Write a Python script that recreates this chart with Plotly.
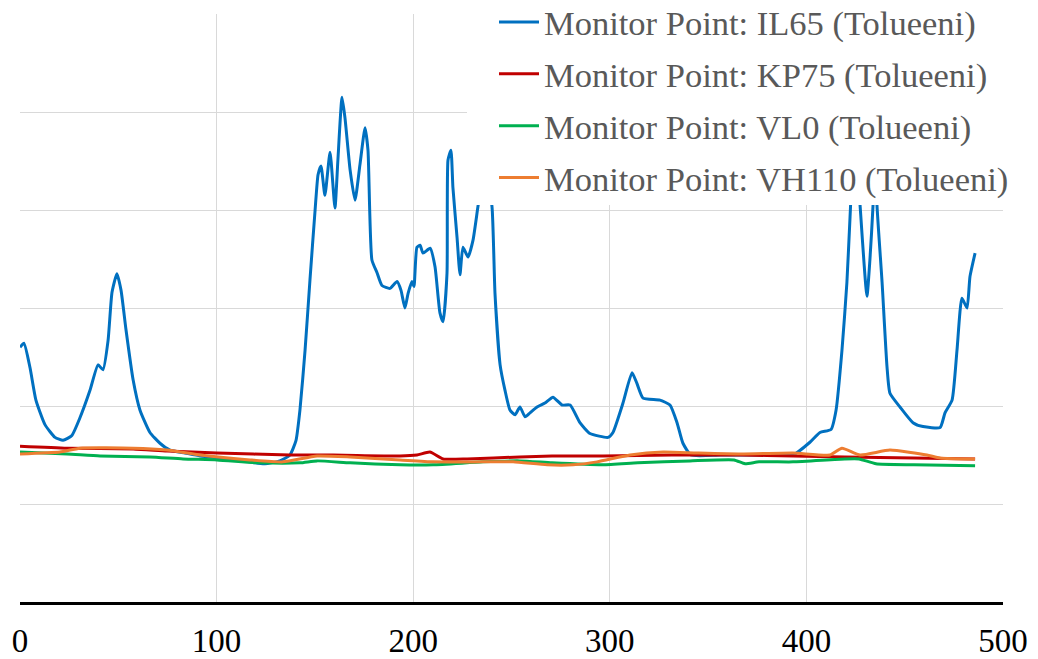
import plotly.graph_objects as go

# ---- data (time, concentration in gridline units) ----
il65_x = [0, 2.0, 5.1, 8.1, 12.7, 17.8, 21.9, 26.4, 30.5, 35.6, 39.7, 42.2, 44.8, 46.8, 49.3,
          51.4, 53.9, 57.5, 61.0, 66.1, 71.2, 76.3, 83.9, 91.6, 101.7, 111.9, 119.5, 124.6,
          132.2, 137.3, 140.4, 142.4, 145.0, 147.5, 150.1, 151.6, 153.1, 155.1, 157.7, 160.2,
          161.7, 163.8, 165.3, 167.9, 170.4, 172.9, 175.5, 177.0, 179.0, 181.6, 184.1, 188.2,
          191.8, 193.8, 195.8, 197.4, 199.4, 200.4, 201.9, 203.5, 205.0, 208.6, 211.1, 213.6,
          215.2, 217.2, 217.7, 219.2, 220.2, 222.3, 223.8, 225.3, 227.9, 230.4, 232.9, 236.5,
          240.1, 241.6, 244.2, 246.7, 249.2, 251.8, 254.3, 256.9, 259.4, 263.0, 267.0, 271.1,
          275.7, 279.8, 284.8, 289.9, 299.1, 301.6, 306.7, 311.3, 313.8, 316.9, 325.5, 330.6,
          334.2, 337.2, 341.3, 356.1, 371.3, 384.0, 393.2, 401.8, 406.9, 412.5, 415.1, 418.1,
          420.6, 422.2, 424.7, 427.3, 430.8, 432.3, 433.9, 434.9, 435.9, 438.5, 441.0, 442.5,
          447.6, 454.2, 459.3, 468.0, 470.5, 474.1, 476.6, 479.1, 481.7, 483.2, 485.8]
il65_y = [2.60, 2.64, 2.39, 2.06, 1.81, 1.68, 1.65, 1.70, 1.88, 2.16, 2.42, 2.37, 2.67, 3.16, 3.35,
          3.18, 2.78, 2.27, 1.96, 1.73, 1.62, 1.55, 1.52, 1.49, 1.47, 1.45, 1.42, 1.41,
          1.44, 1.50, 1.65, 1.96, 2.57, 3.29, 4.00, 4.36, 4.45, 4.15, 4.59, 4.02,
          4.51, 5.15, 4.94, 4.41, 4.10, 4.46, 4.84, 4.61, 3.49, 3.36, 3.23, 3.20,
          3.27, 3.18, 3.00, 3.15, 3.27, 3.22, 3.62, 3.64, 3.56, 3.61, 3.42, 2.95,
          2.86, 3.36, 4.51, 4.61, 4.23, 3.72, 3.34, 3.62, 3.52, 3.69, 4.03, 4.50,
          4.03, 3.15, 2.42, 2.16, 1.96, 1.91, 1.99, 1.89, 1.93, 1.99, 2.03, 2.09,
          2.01, 2.01, 1.83, 1.72, 1.68, 1.73, 2.03, 2.34, 2.23, 2.08, 2.06, 2.01,
          1.83, 1.62, 1.50, 1.50, 1.50, 1.50, 1.50, 1.63, 1.73, 1.76, 1.96, 2.57,
          3.26, 3.93, 4.90, 4.05, 3.12, 3.49, 4.05, 4.80, 4.05, 3.26, 2.40, 2.13,
          1.99, 1.83, 1.79, 1.78, 1.93, 2.06, 2.57, 3.10, 3.00, 3.32, 3.56]

kp75_x = [0, 23.9, 57.5, 74.8, 100.2, 137.3, 159.2, 193.3, 201.9, 208.5, 215.2, 227.4, 254.3,
          270.6, 296.5, 331.6, 366.7, 393.2, 419.6, 454.7, 485.8]
kp75_y = [1.59, 1.57, 1.56, 1.54, 1.52, 1.50, 1.50, 1.49, 1.50, 1.53, 1.46, 1.46, 1.48,
          1.49, 1.49, 1.50, 1.50, 1.49, 1.48, 1.47, 1.46]

vl0_x = [0, 23.9, 40.7, 66.1, 82.9, 100.2, 122.1, 142.4, 151.1, 167.9, 193.3, 210.1, 235.5,
         254.3, 270.6, 296.5, 314.3, 340.8, 363.2, 368.8, 375.9, 393.2, 419.6, 426.8, 435.4,
         454.7, 485.8]
vl0_y = [1.53, 1.51, 1.49, 1.48, 1.46, 1.45, 1.42, 1.42, 1.44, 1.42, 1.40, 1.40, 1.43,
         1.44, 1.42, 1.40, 1.42, 1.44, 1.45, 1.41, 1.43, 1.43, 1.46, 1.46, 1.41,
         1.40, 1.39]

vh110_x = [0, 20.3, 30.5, 57.5, 74.8, 91.6, 117.0, 133.8, 151.1, 167.9, 193.3, 210.1, 235.5,
           250.8, 268.1, 281.3, 293.5, 310.3, 327.1, 344.4, 366.7, 393.2, 412.0, 418.1, 427.3,
           442.5, 461.3, 468.0, 485.8]
vh110_y = [1.51, 1.53, 1.57, 1.57, 1.55, 1.50, 1.45, 1.43, 1.49, 1.48, 1.45, 1.43, 1.43,
           1.43, 1.40, 1.40, 1.43, 1.50, 1.53, 1.52, 1.51, 1.52, 1.50, 1.57, 1.50,
           1.55, 1.50, 1.47, 1.46]

names = ["Monitor Point: IL65 (Tolueeni)", "Monitor Point: KP75 (Tolueeni)",
         "Monitor Point: VL0 (Tolueeni)", "Monitor Point: VH110 (Tolueeni)"]
colors = ["#0070C0", "#C00000", "#00B050", "#ED7D31"]

x_ticks = [0, 100, 200, 300, 400, 500]

SERIF = "Liberation Serif"

fig = go.Figure()
series = [(il65_x, il65_y), (kp75_x, kp75_y), (vl0_x, vl0_y), (vh110_x, vh110_y)]
for i, ((xs, ys), nm, c) in enumerate(zip(series, names, colors)):
    fig.add_trace(go.Scatter(
        x=xs, y=ys, mode="lines", name=nm, legendgroup=f"g{i}",
        line=dict(color=c, width=3, shape="spline", smoothing=0.5),
    ))

# page has an 8px body margin; figure placed at page (8,8)
OFF = 8
W, H = 1038 - OFF, 659 - OFF
# target plot area in page pixels: x 20..1003, y 14..602
L, R, T, B = 20 - OFF, W - (1003 - OFF), 14 - OFF, H - (602 - OFF)
pw, ph = W - L - R, H - T - B

def px2paper_x(px):
    return (px - OFF - L) / pw

def px2paper_y(py):
    return (H - B - (py - OFF)) / ph

# white panel behind the legend (the legend box of the original hides the lines there)
fig.add_shape(type="rect", xref="paper", yref="paper", layer="above",
              x0=px2paper_x(467), x1=px2paper_x(1040), y0=px2paper_y(205), y1=px2paper_y(0),
              fillcolor="white", line=dict(width=0))

fig.update_layout(
    width=W, height=H,
    margin=dict(l=L, r=R, t=T, b=B, autoexpand=False),
    paper_bgcolor="white", plot_bgcolor="white",
    font=dict(family=SERIF, color="black"),
    showlegend=True,
    legend=dict(
        x=px2paper_x(494), y=px2paper_y(-7), xanchor="left", yanchor="top",
        bgcolor="rgba(0,0,0,0)", borderwidth=0,
        font=dict(family=SERIF, size=34.5, color="#595959"),
        tracegroupgap=4, itemwidth=40,
    ),
    xaxis=dict(
        range=[0, 500], tickvals=x_ticks, ticktext=[str(v) for v in x_ticks],
        showgrid=True, gridcolor="#D9D9D9", gridwidth=1,
        showline=True, linecolor="black", linewidth=2.5,
        zeroline=False, ticks="", ticklabelstandoff=8,
        tickfont=dict(family=SERIF, size=33, color="black"),
    ),
    yaxis=dict(
        range=[0, 6], dtick=1, showticklabels=False,
        showgrid=True, gridcolor="#D9D9D9", gridwidth=1,
        zeroline=False, showline=False, ticks="",
    ),
)

fig.write_html("out.html")
